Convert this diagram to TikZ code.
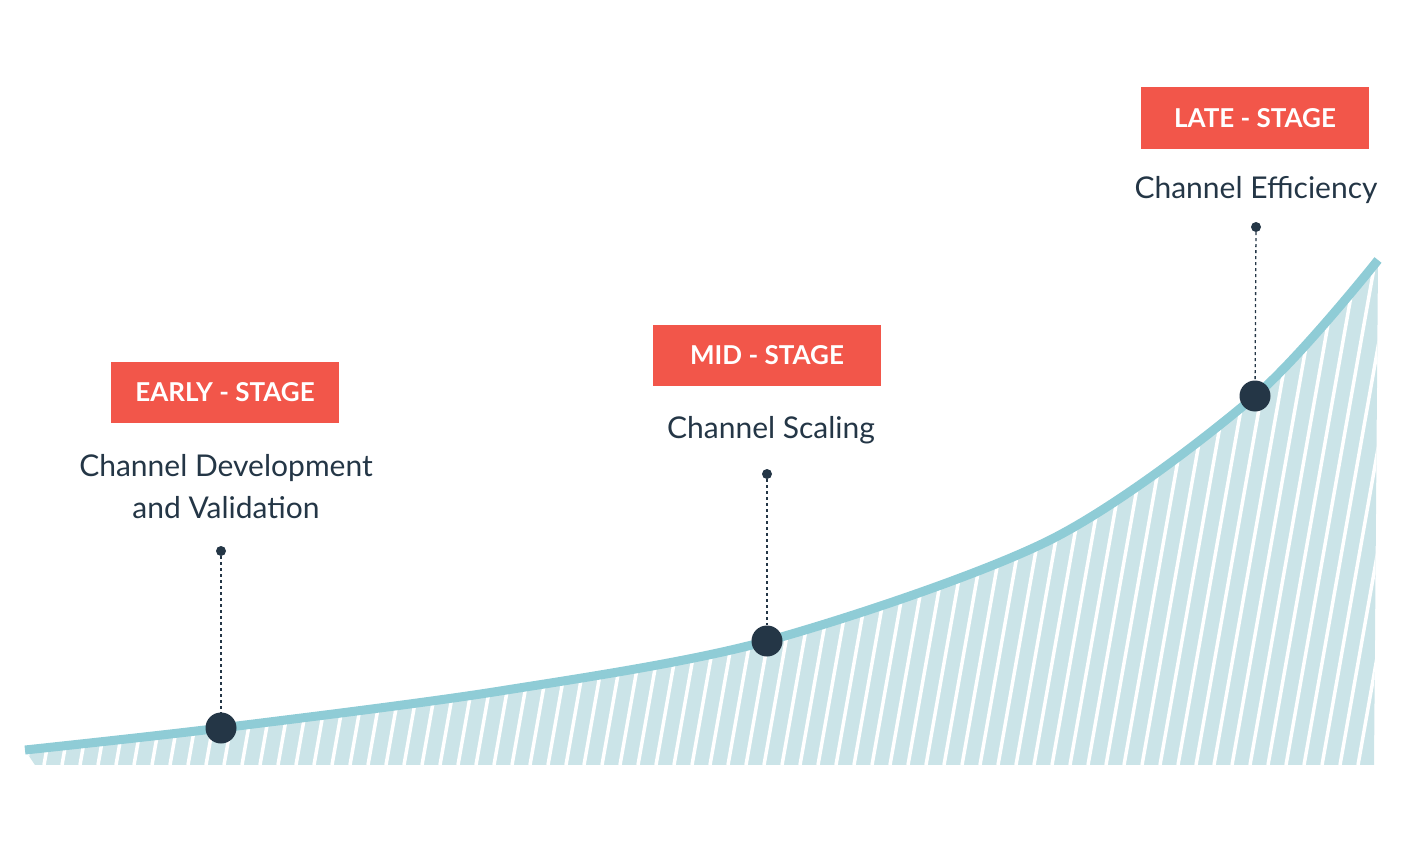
\documentclass[tikz,border=0pt]{standalone}
\usepackage{fontspec}
\setmainfont{Lato}
\usetikzlibrary{positioning}
\definecolor{curveblue}{HTML}{8FCCD6}
\definecolor{hatchblue}{HTML}{CBE4E8}
\definecolor{stagered}{HTML}{F2564A}
\definecolor{dotnavy}{HTML}{243646}
\tikzset{
  stagebox/.style={fill=stagered,text=white,minimum width=228pt,minimum height=61pt,
    font=\fontsize{26}{30}\selectfont\bfseries},
  stagetext/.style={text=dotnavy,align=center,font=\fontsize{30}{42}\selectfont},
  bigdot/.style={circle,fill=dotnavy,minimum size=31pt,inner sep=0pt},
  smalldot/.style={circle,fill=dotnavy,minimum size=10pt,inner sep=0pt},
  guide/.style={dotnavy,line width=1.3pt,dash pattern=on 3pt off 3pt}
}
\begin{document}
\begin{tikzpicture}[x=1pt,y=-1pt]
  \useasboundingbox (0,0) rectangle (1401,851);
  \def\growth{(25,750) (221,728) (500,691) (767,641) (1050,540) (1255,396) (1378,260)}
  % hatched area under the curve
  \begin{scope}
    \clip plot[smooth] coordinates {\growth} -- (1374,765) -- (35,765) -- cycle;
    \fill[hatchblue] (0,200) rectangle (1401,765);
    \foreach \x in {-100,-82,...,1400}{
      \draw[white,line width=3.5pt] (\x,765) -- (\x+100,200);}
  \end{scope}
  \draw[curveblue,line width=9pt] plot[smooth] coordinates {\growth};
  % stages
  \node[stagebox] (early) at (225,392) {EARLY - STAGE};
  \node[stagebox] (mid) at (767,355) {MID - STAGE};
  \node[stagebox] (late) at (1255,118) {LATE - STAGE};
  \node[stagetext] (earlytxt) at (226,487) {Channel Development\\and Validation};
  \node[stagetext] (midtxt) at (771,430) {Channel Scaling};
  \node[stagetext] (latetxt) at (1256,190) {Channel Efficiency};
  \node[smalldot] (es) at (221,551) {};
  \node[smalldot] (ms) at (767,474) {};
  \node[smalldot] (ls) at (1256,227) {};
  \node[bigdot] (eb) at (221,728) {};
  \node[bigdot] (mb) at (767,641) {};
  \node[bigdot] (lb) at (1255,396) {};
  \draw[guide] (es) -- (eb);
  \draw[guide] (ms) -- (mb);
  \draw[guide] (ls) -- (lb);
\end{tikzpicture}
\end{document}
